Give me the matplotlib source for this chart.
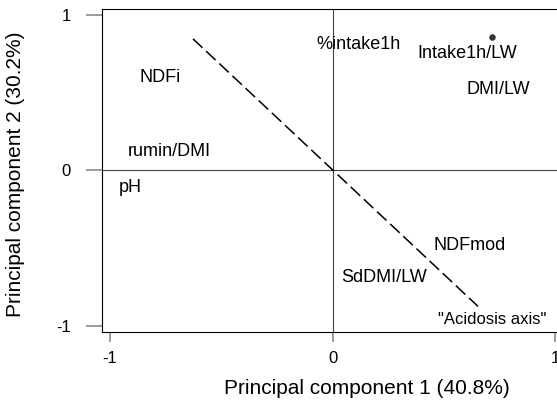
import matplotlib
matplotlib.use('Agg')
import matplotlib.pyplot as plt

plt.rcParams['font.family'] = ['Liberation Sans', 'DejaVu Sans']

# Variable loadings (label anchor positions, baseline)
var_names = ['NDFi', 'rumin/DMI', 'pH', '%intake1h', 'Intake1h/LW',
             'DMI/LW', 'NDFmod', 'SdDMI/LW']
pc1 = [-0.776, -0.733, -0.911, 0.118, 0.606, 0.744, 0.616, 0.234]
pc2 = [0.567, 0.096, -0.139, 0.781, 0.724, 0.493, -0.514, -0.717]

point_x = [0.717]
point_y = [0.861]

acid_x = [-0.627, 0.654]
acid_y = [0.846, -0.874]
acid_label = '"Acidosis axis"'
acid_label_x = 0.718
acid_label_y = -0.985

ticks = [-1, 0, 1]
tick_labels = ['-1', '0', '1']
xlabel = 'Principal component 1 (40.8%)'
ylabel = 'Principal component 2 (30.2%)'

W, H = 557, 403
fig = plt.figure(figsize=(W / 100, H / 100), dpi=100)
ax = fig.add_axes([102 / W, (H - 331.6) / H, 461 / W, 322.3 / H])
ax.set_xlim(-1.036, 1.036)
ax.set_ylim(-1.036, 1.036)

for s in ax.spines.values():
    s.set_color('black')
    s.set_linewidth(0.8)

ax.axhline(0, color='#444444', lw=0.8, zorder=1)
ax.axvline(0, color='#444444', lw=0.8, zorder=1)

ln, = ax.plot(acid_x, acid_y, color='black', lw=1.1, zorder=2)
ln.set_dashes((8.5, 3.3))

ax.scatter(point_x, point_y, s=22, color='#333333', zorder=3, linewidths=0)

for name, x, y in zip(var_names, pc1, pc2):
    ax.text(x, y, name, fontsize=13, ha='center', va='baseline', color='black')
ax.text(acid_label_x, acid_label_y, acid_label, fontsize=12, ha='center',
        va='baseline', color='black')

ax.set_xticks(ticks)
ax.set_xticklabels(tick_labels)
ax.set_yticks(ticks)
ax.set_yticklabels(tick_labels)
ax.tick_params(axis='x', length=7.2, width=1.1, color='#808080', pad=7,
               labelsize=12, labelcolor='black')
ax.tick_params(axis='y', length=11.5, width=1.1, color='#808080', pad=11,
               labelsize=12, labelcolor='black')

fig.text(367 / W, 1 - 388 / H, xlabel, fontsize=15, ha='center', va='center',
         color='black')
fig.text(16 / W, 1 - 174 / H, ylabel, fontsize=15, ha='center', va='center',
         rotation=90, color='black')

fig.savefig('out.png', dpi=100)
